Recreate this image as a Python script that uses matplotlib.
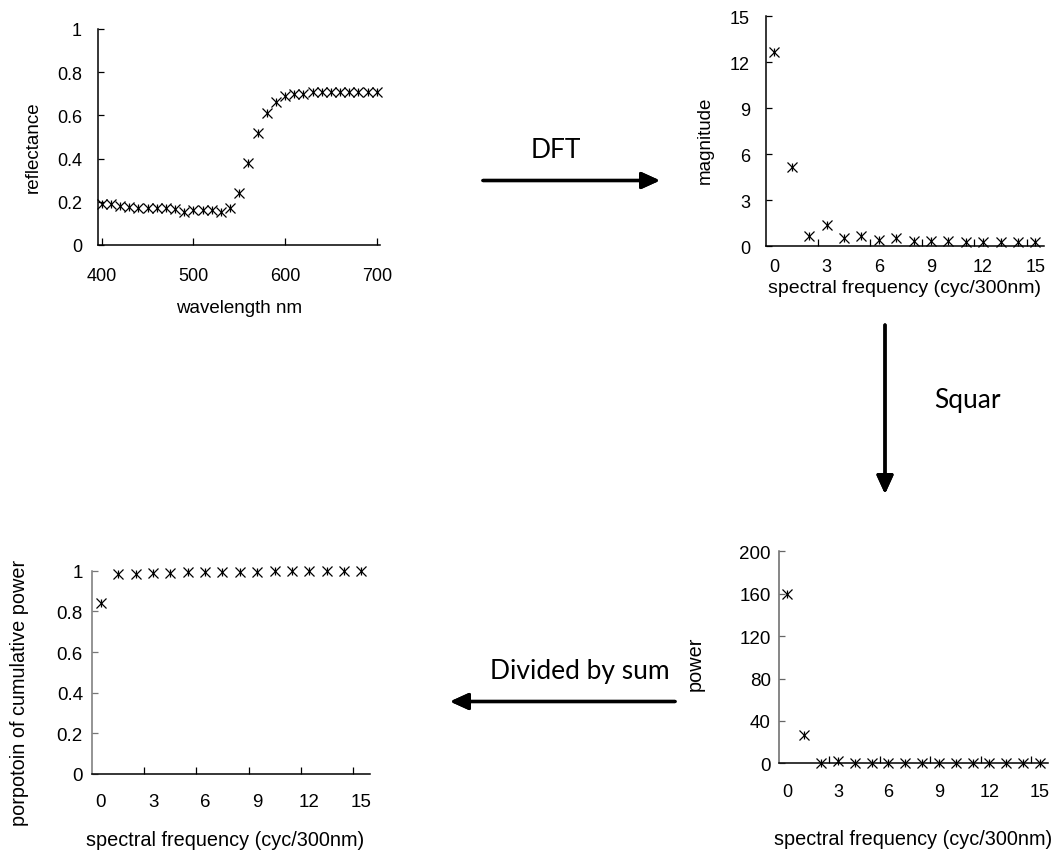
import matplotlib
matplotlib.use("Agg")
import matplotlib.pyplot as plt
from matplotlib import transforms

plt.rcParams['font.family'] = ['Liberation Sans', 'DejaVu Sans']

# data
wavelength = list(range(400, 701, 10))
reflectance = [0.19, 0.19, 0.18, 0.175, 0.17, 0.17, 0.17, 0.17, 0.165, 0.155,
               0.16, 0.16, 0.16, 0.155, 0.17, 0.24, 0.38, 0.52, 0.61, 0.66,
               0.69, 0.70, 0.70, 0.71, 0.71, 0.71, 0.71, 0.71, 0.71, 0.71, 0.71]
freq = list(range(16))
magnitude = [12.65, 5.2, 0.7, 1.39, 0.54, 0.67, 0.43, 0.52, 0.33, 0.33,
             0.33, 0.26, 0.28, 0.26, 0.28, 0.28]
power = [160, 27, 0.5, 1.9, 0.3, 0.45, 0.2, 0.27, 0.1, 0.1,
         0.1, 0.07, 0.08, 0.07, 0.08, 0.08]
cum_prop = [0.84, 0.982, 0.982, 0.99, 0.99, 0.993, 0.993, 0.993, 0.993, 0.993,
            1.0, 1.0, 1.0, 1.0, 1.0, 1.0]

W, H = 1056, 854
fig = plt.figure(figsize=(W / 100, H / 100), dpi=100)
# pixel coords, origin top-left
pix = transforms.Affine2D().scale(1 / W, -1 / H).translate(0, 1) + fig.transFigure


def add_panel(left, top, right, bottom):
    return fig.add_axes([left / W, 1 - bottom / H, (right - left) / W, (bottom - top) / H])


def star(ax, x, y):
    ax.plot(x, y, ls='none', marker='x', ms=6.5, mew=0.9, color='black', clip_on=False)
    ax.plot(x, y, ls='none', marker='|', ms=6, mew=0.9, color='black', clip_on=False)


def style(ax, ycolor='black'):
    for s in ('top', 'right'):
        ax.spines[s].set_visible(False)
    ax.spines['bottom'].set_linewidth(1.1)
    ax.spines['left'].set_linewidth(1.1)
    ax.spines['left'].set_color(ycolor)
    ax.tick_params(axis='y', direction='in', length=4, width=0.9, color=ycolor)
    ax.tick_params(axis='x', which='both', direction='in', width=0.9)


def cat_xaxis(ax, pad):
    ax.set_xlim(-0.5, 15.5)
    ax.set_xticks(range(0, 16, 3))
    ax.set_xticks([2.5, 5.5, 8.5, 11.5, 14.5], minor=True)
    ax.tick_params(axis='x', which='major', length=0, pad=pad, labelsize=13)
    ax.tick_params(axis='x', which='minor', length=5)


# reflectance
ax1 = add_panel(98, 30, 380, 246)
style(ax1)
star(ax1, wavelength, reflectance)
ax1.set_xlim(396, 703.6)
ax1.set_ylim(0, 1)
ax1.set_xticks([400, 500, 600, 700])
ax1.set_yticks([0, 0.2, 0.4, 0.6, 0.8, 1])
ax1.set_yticklabels(['0', '0.2', '0.4', '0.6', '0.8', '1'])
ax1.tick_params(axis='x', length=5, pad=16, labelsize=13)
ax1.tick_params(axis='y', pad=11.5, labelsize=13)
ax1.set_xlabel('wavelength nm', fontsize=13.5, va='baseline')
ax1.xaxis.set_label_coords(239, 313, transform=pix)
ax1.set_ylabel('reflectance', fontsize=13.5, va='center', ha='center')
ax1.yaxis.set_label_coords(33, 147, transform=pix)

# magnitude
ax2 = add_panel(765.7, 17.3, 1044, 247.3)
style(ax2)
star(ax2, freq, magnitude)
ax2.set_ylim(0, 15)
ax2.set_yticks(range(0, 16, 3))
cat_xaxis(ax2, 8.3)
ax2.tick_params(axis='y', pad=11.3, labelsize=13)
ax2.set_xlabel('spectral frequency (cyc/300nm)', fontsize=14, va='baseline')
ax2.xaxis.set_label_coords(904, 293.5, transform=pix)
ax2.set_ylabel('magnitude', fontsize=13.5, va='center', ha='center')
ax2.yaxis.set_label_coords(705.5, 140, transform=pix)

# power
ax3 = add_panel(779, 552.3, 1048.3, 764.3)
style(ax3, ycolor='#666666')
star(ax3, freq, power)
ax3.set_ylim(0, 200)
ax3.set_yticks(range(0, 201, 40))
cat_xaxis(ax3, 14)
ax3.tick_params(axis='y', pad=6, labelsize=13.5)
ax3.set_xlabel('spectral frequency (cyc/300nm)', fontsize=14.3, va='baseline')
ax3.xaxis.set_label_coords(913, 845, transform=pix)
ax3.set_ylabel('power', fontsize=14.3, va='center', ha='center')
ax3.yaxis.set_label_coords(695.5, 664, transform=pix)

# cumulative proportion
ax4 = add_panel(92.3, 571.7, 370, 775)
style(ax4, ycolor='#777777')
star(ax4, freq, cum_prop)
ax4.set_ylim(0, 1)
ax4.set_yticks([0, 0.2, 0.4, 0.6, 0.8, 1])
ax4.set_yticklabels(['0', '0.2', '0.4', '0.6', '0.8', '1'])
cat_xaxis(ax4, 14)
ax4.tick_params(axis='x', labelsize=13.5)
ax4.tick_params(axis='y', pad=6.7, labelsize=13.5)
ax4.set_xlabel('spectral frequency (cyc/300nm)', fontsize=14.3, va='baseline')
ax4.xaxis.set_label_coords(225, 846.5, transform=pix)
ax4.set_ylabel('porpotoin of cumulative power', fontsize=14.3, va='center', ha='center')
ax4.yaxis.set_label_coords(20, 693, transform=pix)

# process arrows
arrow = dict(arrowstyle='-|>,head_length=1.1,head_width=0.5', color='black',
             lw=2.4, shrinkA=0, shrinkB=0)
note = dict(family=['Lato', 'DejaVu Sans'], fontsize=19, ha='center', va='center',
            transform=pix)
fig.add_artist(plt.annotate('', xy=(660, 181.5), xytext=(483, 181.5),
                            xycoords=pix, textcoords=pix, arrowprops=arrow))
fig.text(556, 151, 'DFT', **note)
fig.add_artist(plt.annotate('', xy=(885, 495), xytext=(885, 326),
                            xycoords=pix, textcoords=pix, arrowprops=arrow))
fig.text(967, 401, 'Squar', **note)
fig.add_artist(plt.annotate('', xy=(450, 702.5), xytext=(675, 702.5),
                            xycoords=pix, textcoords=pix, arrowprops=arrow))
fig.text(580, 672, 'Divided by sum', **note)

fig.savefig('out.png', dpi=100)
